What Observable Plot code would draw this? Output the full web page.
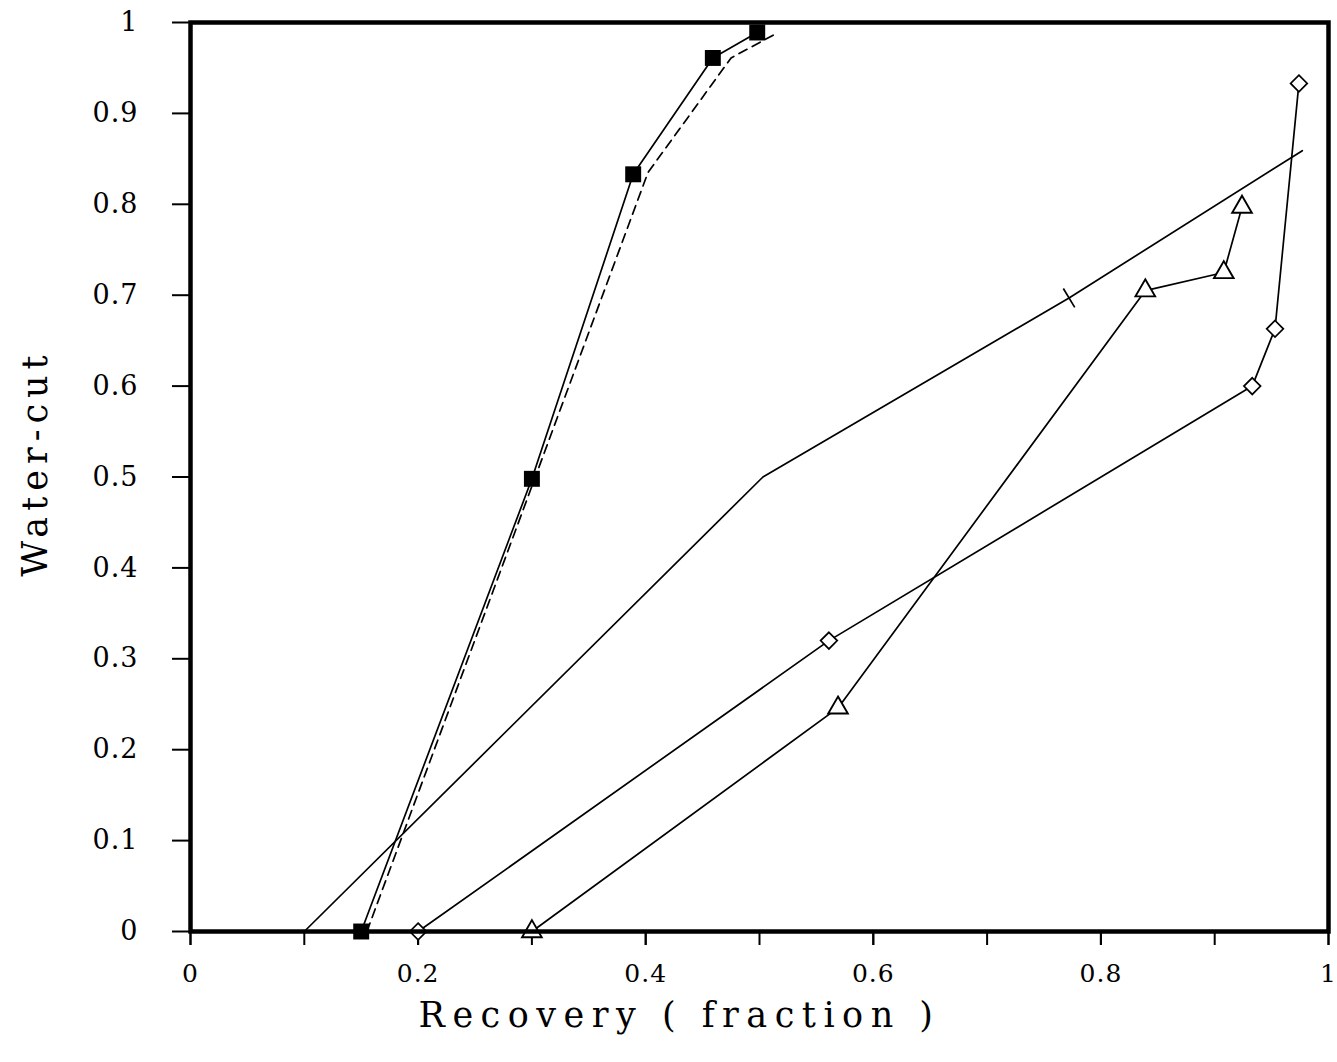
<!DOCTYPE html>
<html><head><meta charset="utf-8">
<script src="https://cdn.jsdelivr.net/npm/d3@7"></script>
<script src="https://cdn.jsdelivr.net/npm/@observablehq/plot@0.6"></script>
<style>
body{margin:0;background:#fff}
#chart svg text{letter-spacing:1px}
</style>
</head><body><div id="chart"></div>
<script>
// Series: filled squares (solid line)
const squareX = [0.15, 0.30, 0.389, 0.459, 0.498];
const squareY = [0.0, 0.498, 0.833, 0.961, 0.989];
// Dashed companion curve
const dashX = [0.155, 0.303, 0.402, 0.475, 0.512];
const dashY = [0.0, 0.50, 0.835, 0.961, 0.986];
// Plain line with a cross mark
const lineX = [0.10, 0.503, 0.772, 0.977];
const lineY = [0.0, 0.50, 0.697, 0.859];
const crossX = [0.772];
const crossY = [0.697];
// Diamonds
const diamondX = [0.20, 0.561, 0.933, 0.953, 0.974];
const diamondY = [0.0, 0.320, 0.600, 0.663, 0.933];
// Triangles
const triangleX = [0.30, 0.569, 0.839, 0.908, 0.924];
const triangleY = [0.0, 0.246, 0.705, 0.725, 0.797];
// Ticks
const yTicks = [0, 0.1, 0.2, 0.3, 0.4, 0.5, 0.6, 0.7, 0.8, 0.9, 1];
const xMinorTicks = [0, 0.1, 0.2, 0.3, 0.4, 0.5, 0.6, 0.7, 0.8, 0.9, 1];
const xMajorTicks = [0, 0.2, 0.4, 0.6, 0.8, 1];
const xLabel = "Recovery ( fraction )";
const yLabel = "Water-cut";

const pts = (xs, ys) => xs.map((x, i) => ({x, y: ys[i]}));

const slash = {
  draw(context, size) {
    const r = Math.sqrt(size / Math.PI);
    const ux = 0.518, uy = 0.855;
    context.moveTo(-r * ux, -r * uy);
    context.lineTo(r * ux, r * uy);
  }
};

const chart = Plot.plot({
  width: 1337, height: 1062,
  marginTop: 22, marginRight: 9, marginBottom: 131, marginLeft: 190,
  x: {domain: [0, 1]},
  y: {domain: [0, 1]},
  style: {fontFamily: "'DejaVu Serif', serif", fontSize: "24px", color: "black", background: "white"},
  marks: [
    Plot.axisY({ticks: yTicks, tickSize: 18, tickPadding: 34, strokeWidth: 2, fontSize: 27, label: null, tickFormat: d3.format("")}),
    Plot.axisX({ticks: xMinorTicks, tickSize: 14, strokeWidth: 2, label: null, tickFormat: () => ""}),
    Plot.axisX({ticks: xMajorTicks, tickSize: 14, tickPadding: 19, strokeWidth: 2, fontSize: 25, label: null, tickFormat: d3.format("")}),
    Plot.line(pts(dashX, dashY), {x: "x", y: "y", stroke: "black", strokeWidth: 1.7, strokeDasharray: "9,6"}),
    Plot.line(pts(squareX, squareY), {x: "x", y: "y", stroke: "black", strokeWidth: 1.7}),
    Plot.line(pts(lineX, lineY), {x: "x", y: "y", stroke: "black", strokeWidth: 1.7}),
    Plot.line(pts(diamondX, diamondY), {x: "x", y: "y", stroke: "black", strokeWidth: 1.7}),
    Plot.line(pts(triangleX, triangleY), {x: "x", y: "y", stroke: "black", strokeWidth: 1.7}),
    Plot.dot(pts(squareX, squareY), {x: "x", y: "y", symbol: "square", r: 9, fill: "black", stroke: "none"}),
    Plot.dot(pts(diamondX, diamondY), {x: "x", y: "y", symbol: "diamond2", r: 7.5, fill: "white", stroke: "black", strokeWidth: 1.7}),
    Plot.dot(pts(triangleX, triangleY), {x: "x", y: "y", symbol: "triangle", r: 7.3, fill: "white", stroke: "black", strokeWidth: 1.9}),
    Plot.dot(pts(crossX, crossY), {x: "x", y: "y", symbol: slash, r: 11, fill: "none", stroke: "black", strokeWidth: 1.7}),
    Plot.frame({stroke: "black", strokeWidth: 4.5}),
    Plot.text([xLabel], {frameAnchor: "bottom", textAnchor: "middle", lineAnchor: "bottom", dx: -80, dy: 95, fontSize: 35, text: d => d, fill: "black"}),
    Plot.text([yLabel], {frameAnchor: "left", textAnchor: "middle", lineAnchor: "middle", dx: -155, dy: -14, rotate: -90, fontSize: 35, text: d => d, fill: "black"})
  ]
});
document.getElementById("chart").appendChild(chart);
chart.querySelectorAll("text").forEach(t => {
  if (t.textContent === xLabel) t.style.letterSpacing = "7.5px";
  else if (t.textContent === yLabel) t.style.letterSpacing = "6px";
});
</script>
</body></html>
